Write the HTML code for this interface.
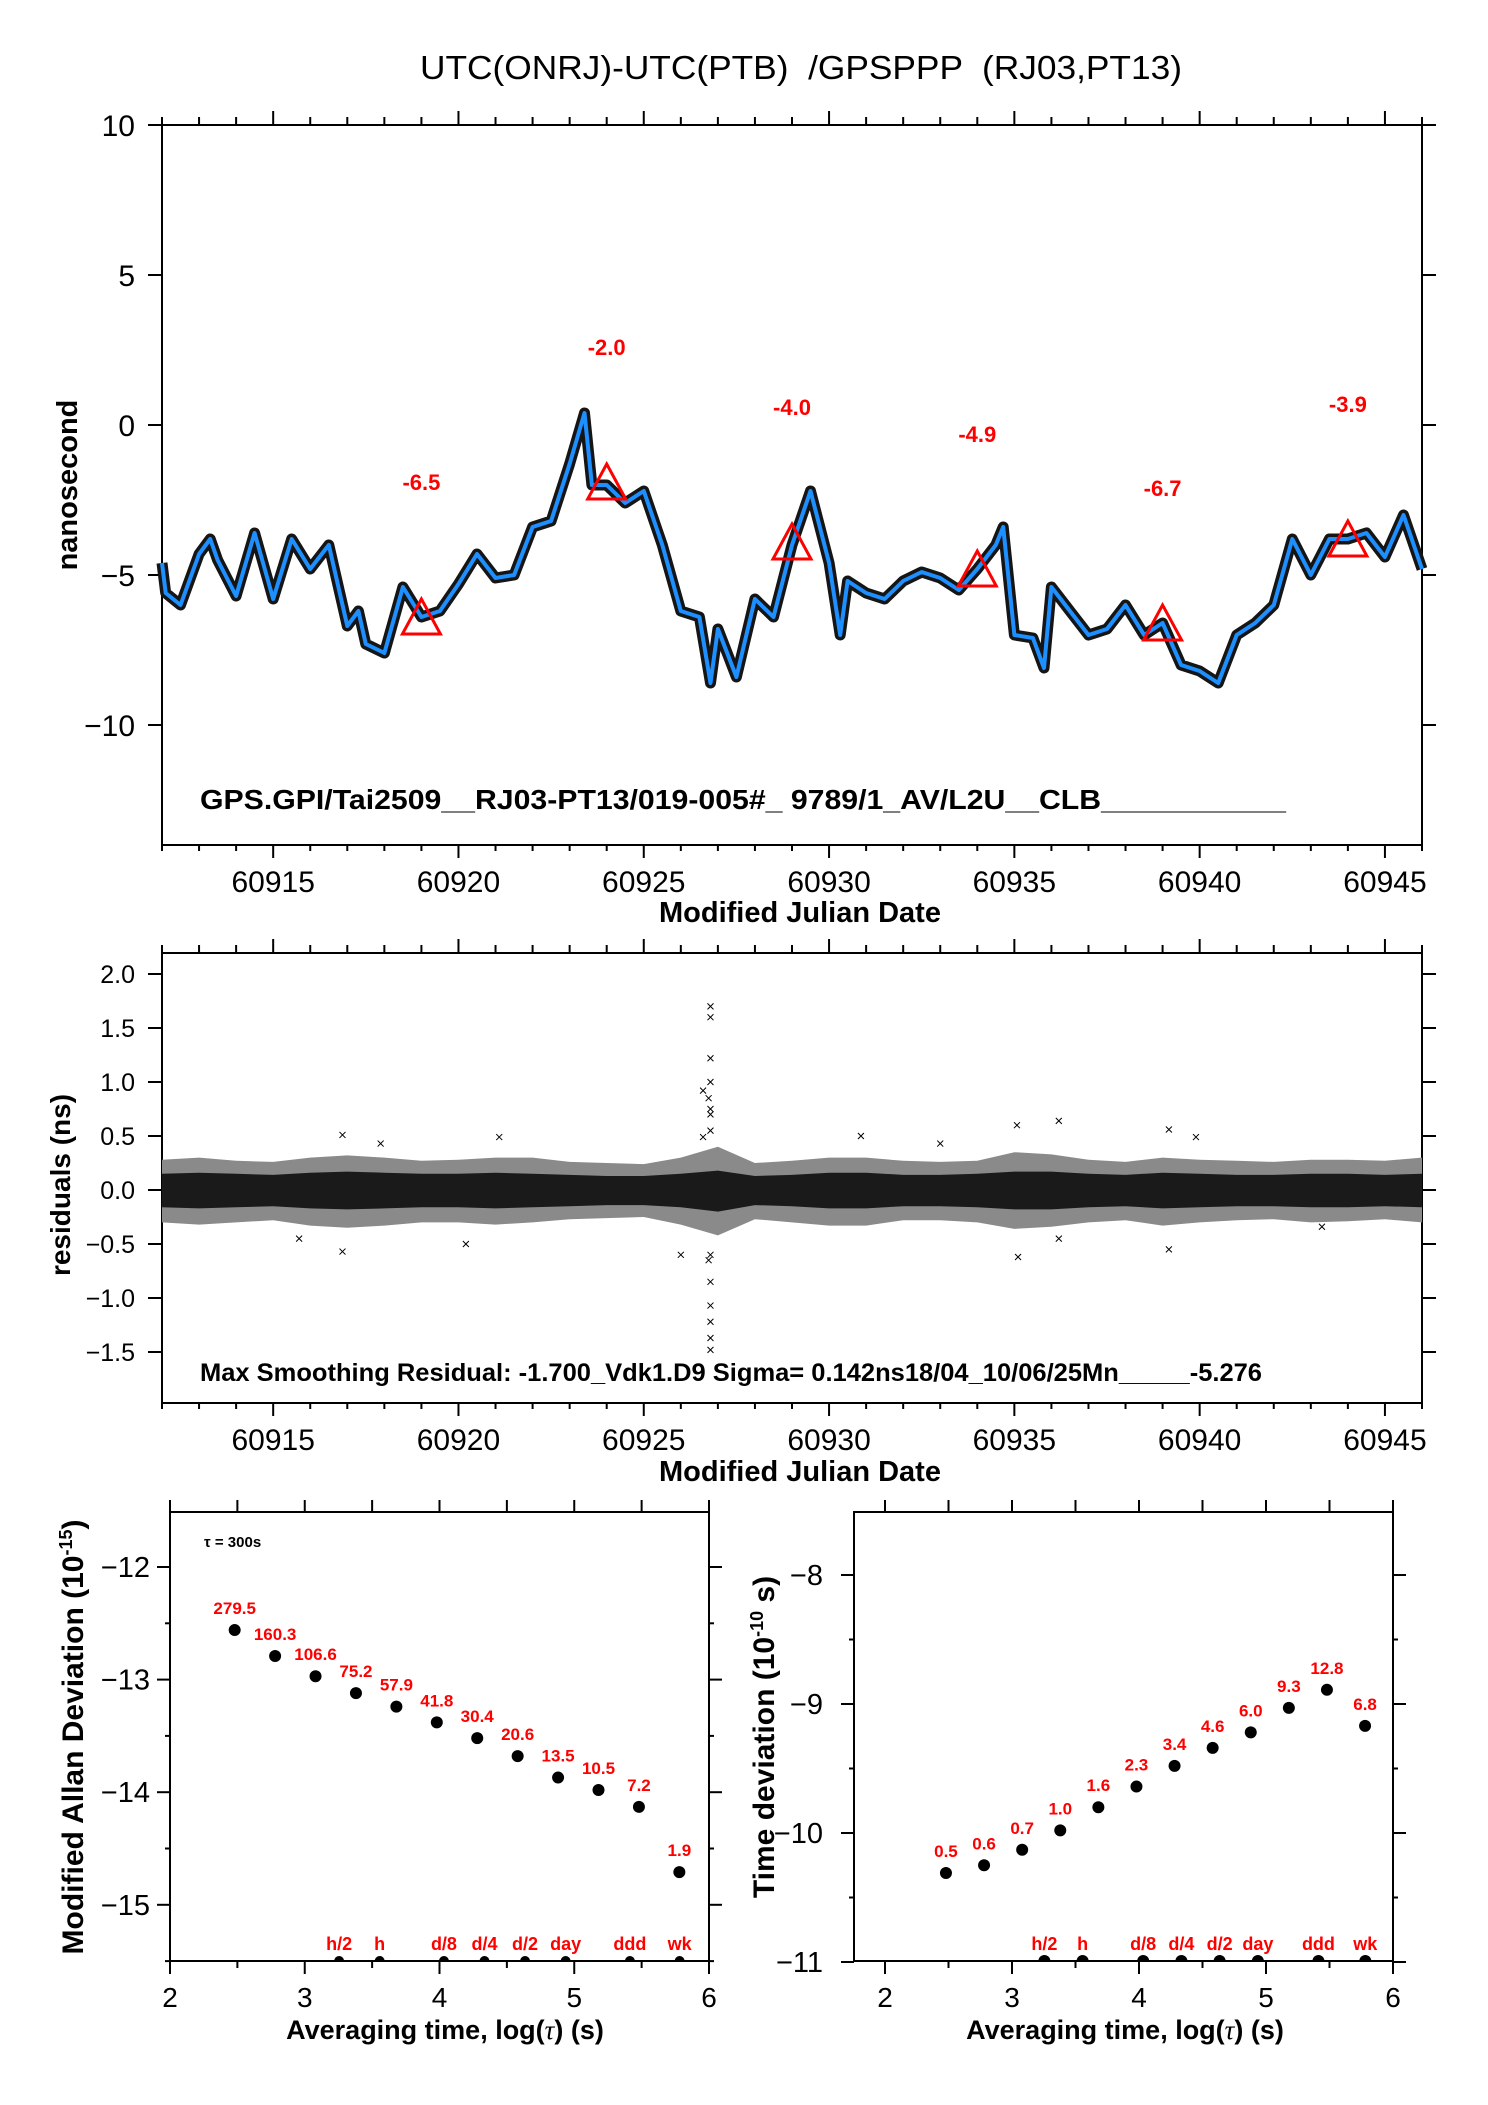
<!DOCTYPE html>
<html><head><meta charset="utf-8"><title>UTC(ONRJ)-UTC(PTB) GPSPPP</title>
<style>
html,body{margin:0;padding:0;background:#fff;}
svg{display:block;font-family:"Liberation Sans",Arial,sans-serif;}
</style></head>
<body>
<svg id="chart" xmlns="http://www.w3.org/2000/svg" width="1488" height="2105" viewBox="0 0 1488 2105">
<rect x="0" y="0" width="1488" height="2105" fill="#fff"/>
<text x="801" y="79" font-size="33" text-anchor="middle" xml:space="preserve" textLength="762" lengthAdjust="spacingAndGlyphs">UTC(ONRJ)-UTC(PTB)  /GPSPPP  (RJ03,PT13)</text>
<g id="top"></g>
<g id="res"></g>
<g id="adev"></g>
<g id="tdev"></g>
</svg>
<script>
// ---- Top panel data ----
const seriesMjd = [60912,60912.1,60912.5,60913,60913.3,60913.5,60914,60914.5,60915,60915.5,60916,60916.5,60917,60917.3,60917.5,60918,60918.5,60919,60919.5,60920,60920.5,60921,60921.5,60922,60922.5,60923,60923.4,60923.6,60924,60924.5,60925,60925.5,60926,60926.5,60926.8,60927,60927.5,60928,60928.5,60929,60929.5,60930,60930.3,60930.5,60931,60931.5,60932,60932.5,60933,60933.5,60934,60934.5,60934.7,60935,60935.5,60935.8,60936,60936.5,60937,60937.5,60938,60938.5,60939,60939.5,60940,60940.5,60941,60941.5,60942,60942.5,60943,60943.5,60944,60944.5,60945,60945.5,60946];
const seriesVal = [-4.6,-5.6,-6.0,-4.3,-3.8,-4.5,-5.7,-3.6,-5.8,-3.8,-4.8,-4.0,-6.7,-6.2,-7.3,-7.6,-5.4,-6.4,-6.2,-5.3,-4.3,-5.1,-5.0,-3.4,-3.2,-1.3,0.4,-2.0,-2.0,-2.6,-2.2,-4.0,-6.2,-6.4,-8.6,-6.8,-8.4,-5.8,-6.4,-4.0,-2.2,-4.6,-7.0,-5.2,-5.6,-5.8,-5.2,-4.9,-5.1,-5.5,-4.8,-4.0,-3.4,-7.0,-7.1,-8.1,-5.4,-6.2,-7.0,-6.8,-6.0,-7.0,-6.6,-8.0,-8.2,-8.6,-7.0,-6.6,-6.0,-3.8,-5.0,-3.8,-3.8,-3.6,-4.4,-3.0,-4.8];
const markerMjd = [60919,60924,60929,60934,60939,60944];
const markerVal = [-6.5,-2.0,-4.0,-4.9,-6.7,-3.9];
const markerLabels = ["-6.5","-2.0","-4.0","-4.9","-6.7","-3.9"];
const topYTicks = [10,5,0,-5,-10];
const mjdTicks = [60915,60920,60925,60930,60935,60940,60945];
// ---- Residual data ----
const resDays = [60912,60913,60914,60915,60916,60917,60918,60919,60920,60921,60922,60923,60924,60925,60926,60927,60928,60929,60930,60931,60932,60933,60934,60935,60936,60937,60938,60939,60940,60941,60942,60943,60944,60945,60946];
const resOuterUp = [0.28,0.3,0.27,0.26,0.3,0.32,0.3,0.27,0.28,0.3,0.3,0.26,0.25,0.24,0.3,0.4,0.25,0.27,0.3,0.3,0.27,0.26,0.27,0.35,0.33,0.28,0.26,0.3,0.28,0.27,0.26,0.28,0.28,0.27,0.3];
const resOuterDn = [-0.3,-0.32,-0.3,-0.28,-0.33,-0.35,-0.33,-0.3,-0.3,-0.32,-0.3,-0.27,-0.26,-0.25,-0.32,-0.42,-0.27,-0.3,-0.33,-0.33,-0.28,-0.28,-0.3,-0.36,-0.34,-0.3,-0.28,-0.33,-0.3,-0.28,-0.27,-0.3,-0.29,-0.27,-0.3];
const resInnerUp = [0.15,0.16,0.15,0.14,0.16,0.17,0.16,0.15,0.15,0.16,0.15,0.14,0.13,0.13,0.15,0.18,0.13,0.14,0.16,0.16,0.14,0.14,0.15,0.17,0.17,0.15,0.14,0.16,0.15,0.14,0.14,0.15,0.15,0.14,0.15];
const resInnerDn = [-0.16,-0.17,-0.16,-0.15,-0.17,-0.18,-0.17,-0.16,-0.16,-0.17,-0.16,-0.15,-0.14,-0.14,-0.16,-0.2,-0.14,-0.15,-0.17,-0.17,-0.15,-0.15,-0.16,-0.18,-0.18,-0.16,-0.15,-0.17,-0.16,-0.15,-0.15,-0.16,-0.16,-0.15,-0.16];
const outlierMjd = [60926.8,60926.8,60926.8,60926.8,60926.75,60926.8,60926.8,60926.8,60926.8,60926.75,60926.8,60926.8,60926.8,60926.8,60926.8,60926.6,60926.6,60926.0,60916.87,60916.87,60917.9,60921.1,60920.2,60930.86,60935.07,60936.2,60935.1,60939.17,60939.17,60939.9,60936.2,60943.3,60915.7,60933.0];
const outlierVal = [1.7,1.6,1.22,1.0,0.85,0.75,0.7,0.55,-0.6,-0.65,-0.85,-1.07,-1.22,-1.37,-1.48,0.92,0.49,-0.6,0.51,-0.57,0.43,0.49,-0.5,0.5,0.6,0.64,-0.62,0.56,-0.55,0.49,-0.45,-0.34,-0.45,0.43];
const resYTicks = [2.0,1.5,1.0,0.5,0.0,-0.5,-1.0,-1.5];
// ---- Stability data ----
const logTau = [2.48,2.78,3.08,3.38,3.68,3.98,4.28,4.58,4.88,5.18,5.48,5.78];
const adevVal = [-12.56,-12.79,-12.97,-13.12,-13.24,-13.38,-13.52,-13.68,-13.87,-13.98,-14.13,-14.71];
const adevLabels = ["279.5","160.3","106.6","75.2","57.9","41.8","30.4","20.6","13.5","10.5","7.2","1.9"];
const tdevVal = [-10.31,-10.25,-10.13,-9.98,-9.80,-9.64,-9.48,-9.34,-9.22,-9.03,-8.89,-9.17];
const tdevLabels = ["0.5","0.6","0.7","1.0","1.6","2.3","3.4","4.6","6.0","9.3","12.8","6.8"];
const intervalLog = [3.255,3.556,4.033,4.334,4.635,4.936,5.413,5.782];
const intervalLabels = ["h/2","h","d/8","d/4","d/2","day","ddd","wk"];
const adevYTicks = [-12,-13,-14,-15];
const tdevYTicks = [-8,-9,-10,-11];
const logTicks = [2,3,4,5,6];

const NS = "http://www.w3.org/2000/svg";
function mk(parent, tag, attrs, txt){
  const e = document.createElementNS(NS, tag);
  for (const k in attrs) e.setAttribute(k, attrs[k]);
  if (txt !== undefined) e.textContent = txt;
  parent.appendChild(e);
  return e;
}
const X0 = 162, X1 = 1422;
const xT = m => X0 + (m - 60912) * (X1 - X0) / 34;
const yT = v => 425 - v * 30;
const yR = v => 974 - (v - 2) * 108;
const xL = l => 170 + (l - 2) * 134.75;
const yL = v => 1567 - (v + 12) * 112.6;
const xRt = l => 885 + (l - 2) * 127;
const yRt = v => 1575 - (v + 8) * 129;

function frame(g, x0, y0, x1, y1){
  const r = mk(g, 'rect', {x:x0, y:y0, width:x1-x0, height:y1-y0, fill:'none', stroke:'#000', 'stroke-width':2});
  
  
}
function line(g, x1, y1, x2, y2, w){
  mk(g, 'line', {x1:x1, y1:y1, x2:x2, y2:y2, stroke:'#000', 'stroke-width':w||2});
}
function mjdAxes(g, top, bottom, labelY, titleY){
  for (let d = 60912; d <= 60946; d++){
    const x = xT(d);
    const major = d % 5 === 0;
    line(g, x, top, x, top - (major ? 14 : 8));
    line(g, x, bottom, x, bottom + (major ? 13 : 6));
  }
  const tg = mk(g, 'g', {});
  
  
  mjdTicks.forEach(m => {
    const t = mk(tg, 'text', {x:xT(m), y:labelY, 'font-size':30, 'text-anchor':'middle'}, String(m));
    
    
  });
  const xt = mk(g, 'text', {x:800, y:titleY, 'font-size':29, 'font-weight':'bold', 'text-anchor':'middle'}, 'Modified Julian Date');
  
  
}

// ===== TOP PANEL =====
(function(){
  const g = document.getElementById('top');
  frame(g, X0, 125, X1, 845);
  mjdAxes(g, 125, 845, 892, 922);
  topYTicks.forEach(v => {
    const y = yT(v);
    line(g, 148, y, X0, y);
    line(g, X1, y, X1 + 14, y);
    const t = mk(g, 'text', {x:135, y:y + 11, 'font-size':30, 'text-anchor':'end'}, (v < 0 ? '\u2212' + (-v) : String(v)));
    
    
  });
  const yl = mk(g, 'text', {x:0, y:0, 'font-size':29, 'font-weight':'bold', 'text-anchor':'middle', transform:'translate(77,485) rotate(-90)'}, 'nanosecond');
  
  
  const pts = seriesMjd.map((m, i) => xT(m).toFixed(1) + ',' + yT(seriesVal[i]).toFixed(1)).join(' ');
  const halo = mk(g, 'polyline', {points:pts, fill:'none', stroke:'#151515', 'stroke-width':11, 'stroke-linejoin':'round'});
  
  
  const ln = mk(g, 'polyline', {points:pts, fill:'none', stroke:'#1e8fff', 'stroke-width':4, 'stroke-linejoin':'round'});
  
  
  markerMjd.forEach((m, i) => {
    const x = xT(m), y = yT(markerVal[i]);
    const tri = mk(g, 'polygon', {points:`${x},${y-21} ${x-19},${y+14} ${x+19},${y+14}`, fill:'none', stroke:'#f00', 'stroke-width':3});
    
    
    const t = mk(g, 'text', {x:x, y:yT(markerVal[i] + 4.6) + 8, 'font-size':22, 'font-weight':'bold', fill:'#f00', 'text-anchor':'middle'}, markerLabels[i]);
    
    
  });
  const a = mk(g, 'text', {x:200, y:809, 'font-size':28, 'font-weight':'bold', textLength:1086, lengthAdjust:'spacingAndGlyphs', 'xml:space':'preserve'}, 'GPS.GPI/Tai2509__RJ03-PT13/019-005#_  9789/1_AV/L2U__CLB___________');
  
  
})();

// ===== RESIDUAL PANEL =====
(function(){
  const g = document.getElementById('res');
  frame(g, X0, 953, X1, 1403);
  mjdAxes(g, 953, 1403, 1450, 1481);
  resYTicks.forEach(v => {
    const y = yR(v);
    line(g, 148, y, X0, y);
    line(g, X1, y, X1 + 14, y);
    const lbl = (v < 0 ? '\u2212' : '') + Math.abs(v).toFixed(1);
    const t = mk(g, 'text', {x:135, y:y + 9, 'font-size':25, 'text-anchor':'end'}, lbl);
    
    
  });
  const yl = mk(g, 'text', {x:0, y:0, 'font-size':28, 'font-weight':'bold', 'text-anchor':'middle', transform:'translate(70,1185) rotate(-90)'}, 'residuals (ns)');
  
  
  function band(up, dn, fill, name){
    const p = resDays.map((d, i) => xT(d).toFixed(1) + ',' + yR(up[i]).toFixed(1));
    const q = resDays.map((d, i) => xT(d).toFixed(1) + ',' + yR(dn[i]).toFixed(1)).reverse();
    const poly = mk(g, 'polygon', {points:p.concat(q).join(' '), fill:fill});
    
    
  }
  band(resOuterUp, resOuterDn, '#8a8a8a', 'residual-outer-band');
  band(resInnerUp, resInnerDn, '#1a1a1a', 'residual-dense-band');
  outlierMjd.forEach((m, i) => {
    const x = xT(m), y = yR(outlierVal[i]);
    const p = mk(g, 'path', {d:`M${x-3},${y-3}L${x+3},${y+3}M${x-3},${y+3}L${x+3},${y-3}`, stroke:'#000', 'stroke-width':1});
    
    
  });
  const a = mk(g, 'text', {x:200, y:1381, 'font-size':25, 'font-weight':'bold', textLength:1062, lengthAdjust:'spacingAndGlyphs', 'xml:space':'preserve'}, 'Max Smoothing Residual: -1.700_Vdk1.D9  Sigma= 0.142ns18/04_10/06/25Mn_____-5.276');
  
  
})();

// ===== STABILITY PANELS =====
function stabPanel(g, xs, ys, left, right, ymin, ymax, yTicks, vals, labels, dotR, markR, titleX, ytitle, ytitleX, lblOff){
  const top = 1512, bottom = 1961;
  frame(g, left, top, right, bottom);
  for (let l = 2; l <= 6.001; l += 0.5){
    const x = xs(l);
    if (x >= left - 1 && x <= right + 1){
      line(g, x, top, x, top - 12);
      const major = Math.abs(l - Math.round(l)) < 0.01;
      line(g, x, bottom, x, bottom + (major ? 13 : 7));
    }
  }
  logTicks.forEach(l => {
    const t = mk(g, 'text', {x:xs(l), y:2007, 'font-size':28, 'text-anchor':'middle'}, String(l));
    
    
  });
  for (let v = ymax; v >= ymin - 0.001; v -= 0.5){
    const y = ys(v);
    if (y < top - 1 || y > bottom + 1) continue;
    const major = Math.abs(v - Math.round(v)) < 0.01;
    line(g, left - (major ? 13 : 5), y, left, y);
    line(g, right, y, right + (major ? 13 : 5), y);
  }
  yTicks.forEach(v => {
    const t = mk(g, 'text', {x:left - lblOff, y:ys(v) + 10, 'font-size':29, 'text-anchor':'end'}, '\u2212' + (-v));
    
    
  });
  logTau.forEach((l, i) => {
    const x = xs(l), y = ys(vals[i]);
    const c = mk(g, 'circle', {cx:x, cy:y, r:dotR, fill:'#000'});
    
    
    const t = mk(g, 'text', {x:x, y:y - 16, 'font-size':17, 'font-weight':'bold', fill:'#f00', 'text-anchor':'middle'}, labels[i]);
    
    
  });
  intervalLog.forEach((l, i) => {
    const x = xs(l);
    const c = mk(g, 'path', {d:`M${x-markR},${bottom} A${markR},${markR} 0 0 1 ${x+markR},${bottom} Z`, fill:'#000'});
    
    
    const t = mk(g, 'text', {x:x, y:1950, 'font-size':18, 'font-weight':'bold', fill:'#f00', 'text-anchor':'middle'}, intervalLabels[i]);
    
    
  });
  const xt = mk(g, 'text', {x:titleX, y:2039, 'font-size':27, 'font-weight':'bold', 'text-anchor':'middle'});
  
  
  xt.appendChild(document.createTextNode('Averaging time, log('));
  mk(xt, 'tspan', {'font-family':'"Liberation Serif",serif', 'font-style':'italic', 'font-weight':'normal'}, '\u03c4');
  xt.appendChild(document.createTextNode(') (s)'));
  const yt = mk(g, 'text', {x:0, y:0, 'font-size':30, 'font-weight':'bold', 'text-anchor':'middle', transform:`translate(${ytitleX},1737) rotate(-90)`});
  
  
  yt.appendChild(document.createTextNode(ytitle[0]));
  mk(yt, 'tspan', {'font-size':18, dy:-11}, ytitle[1]);
  mk(yt, 'tspan', {dy:11}, ytitle[2]);
}
(function(){
  const g = document.getElementById('adev');
  stabPanel(g, xL, yL, 170, 709, -15.5, -11.5, adevYTicks, adevVal, adevLabels, 6, 5, 445,
    ['Modified Allan Deviation (10', '-15', ')'], 83, 20);
  const t = mk(g, 'text', {x:204, y:1547, 'font-size':15, 'font-weight':'bold'}, '\u03c4 = 300s');
  
  
})();
(function(){
  const g = document.getElementById('tdev');
  stabPanel(g, xRt, yRt, 854, 1393, -11, -7.5, tdevYTicks, tdevVal, tdevLabels, 6, 6, 1125,
    ['Time deviation (10', '-10', ' s)'], 774, 31);
})();
</script>
</body></html>
